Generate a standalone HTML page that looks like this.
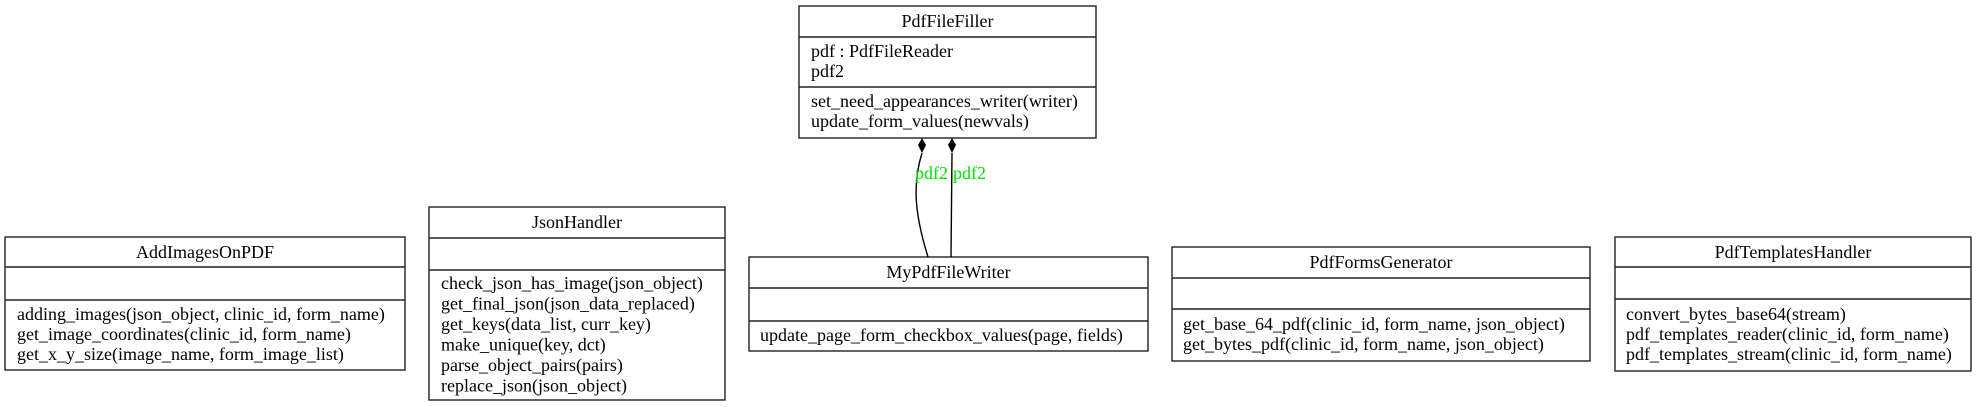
<!DOCTYPE html>
<html><head><meta charset="utf-8"><style>
html,body{margin:0;padding:0;background:#fff;}
svg{display:block;}
text{font-family:"Liberation Serif",serif;font-size:18px;fill:#000;}
</style></head><body>
<svg width="1977" height="407" viewBox="0 0 1977 407" xmlns="http://www.w3.org/2000/svg">
<g fill="none" stroke="#222" stroke-width="1.4">
<!-- PdfFileFiller -->
<rect x="799" y="6" width="297" height="132"/>
<line x1="799" y1="37" x2="1096" y2="37"/>
<line x1="799" y1="87" x2="1096" y2="87"/>
<!-- AddImagesOnPDF -->
<rect x="5" y="237" width="400" height="133"/>
<line x1="5" y1="267" x2="405" y2="267"/>
<line x1="5" y1="300" x2="405" y2="300"/>
<!-- JsonHandler -->
<rect x="429" y="207" width="296" height="193"/>
<line x1="429" y1="238" x2="725" y2="238"/>
<line x1="429" y1="270" x2="725" y2="270"/>
<!-- MyPdfFileWriter -->
<rect x="749" y="257" width="399" height="94"/>
<line x1="749" y1="288" x2="1148" y2="288"/>
<line x1="749" y1="321" x2="1148" y2="321"/>
<!-- PdfFormsGenerator -->
<rect x="1172" y="247" width="418" height="114"/>
<line x1="1172" y1="278" x2="1590" y2="278"/>
<line x1="1172" y1="309" x2="1590" y2="309"/>
<!-- PdfTemplatesHandler -->
<rect x="1615" y="237" width="356" height="134"/>
<line x1="1615" y1="267" x2="1971" y2="267"/>
<line x1="1615" y1="299" x2="1971" y2="299"/>
<!-- edges -->
<path d="M922,153 C912,185 915,215 928,257" stroke="#000"/>
<path d="M952,153 L951,257" stroke="#000"/>
</g>
<polygon points="922,138 926,145 922,153 918,145" fill="#000"/>
<polygon points="952,138 956,145 952,153 948,145" fill="#000"/>
<text x="915" y="179" style="fill:#00e000">pdf2</text>
<text x="953" y="179" style="fill:#00e000">pdf2</text>

<text x="947.5" y="27" text-anchor="middle">PdfFileFiller</text>
<text x="811" y="57">pdf : PdfFileReader</text>
<text x="811" y="77">pdf2</text>
<text x="811" y="107">set_need_appearances_writer(writer)</text>
<text x="811" y="127">update_form_values(newvals)</text>

<text x="205" y="258" text-anchor="middle">AddImagesOnPDF</text>
<text x="17" y="320">adding_images(json_object, clinic_id, form_name)</text>
<text x="17" y="340">get_image_coordinates(clinic_id, form_name)</text>
<text x="17" y="360">get_x_y_size(image_name, form_image_list)</text>

<text x="577" y="228" text-anchor="middle">JsonHandler</text>
<text x="441" y="289">check_json_has_image(json_object)</text>
<text x="441" y="309.5">get_final_json(json_data_replaced)</text>
<text x="441" y="330">get_keys(data_list, curr_key)</text>
<text x="441" y="350.5">make_unique(key, dct)</text>
<text x="441" y="371">parse_object_pairs(pairs)</text>
<text x="441" y="391.5">replace_json(json_object)</text>

<text x="948.5" y="278" text-anchor="middle">MyPdfFileWriter</text>
<text x="760" y="341">update_page_form_checkbox_values(page, fields)</text>

<text x="1381" y="268" text-anchor="middle">PdfFormsGenerator</text>
<text x="1183" y="330">get_base_64_pdf(clinic_id, form_name, json_object)</text>
<text x="1183" y="350">get_bytes_pdf(clinic_id, form_name, json_object)</text>

<text x="1793" y="258" text-anchor="middle">PdfTemplatesHandler</text>
<text x="1626" y="320">convert_bytes_base64(stream)</text>
<text x="1626" y="340">pdf_templates_reader(clinic_id, form_name)</text>
<text x="1626" y="360">pdf_templates_stream(clinic_id, form_name)</text>
</svg>
</body></html>
